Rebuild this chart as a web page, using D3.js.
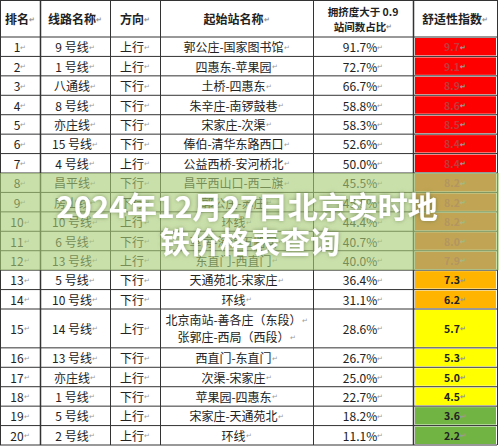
<!DOCTYPE html><html><head><meta charset="utf-8"><script src="https://cdn.jsdelivr.net/npm/d3@7"></script>
<style>body{margin:0;background:#fff}</style></head><body><svg id="c" width="499" height="446"></svg><script>
const headers=["排名","线路名称","方向","起始站名称","拥挤度大于 0.9|站间数占比","舒适性指数"];
const ranks=d3.range(1,21);
const lines=["9 号线","1 号线","八通线","8 号线","亦庄线","15 号线","4 号线","昌平线","房山线","10 号线","6 号线","13 号线","5 号线","10 号线","14 号线","13 号线","亦庄线","1 号线","5 号线","2 号线"];
const dirs=["上行","上行","下行","下行","下行","下行","上行","下行","下行","上行","下行","上行","下行","下行","上行","下行","上行","下行","上行","上行"];
const stations=["郭公庄-国家图书馆","四惠东-苹果园","土桥-四惠东","朱辛庄-南锣鼓巷","宋家庄-次渠","俸伯-清华东路西口","公益西桥-安河桥北","昌平西山口-西二旗","郭公庄-苏庄","环线","草房-海淀五路居","东直门-西直门","天通苑北-宋家庄","环线","北京南站-善各庄（东段）|张郭庄-西局（西段）","西直门-东直门","次渠-宋家庄","苹果园-四惠东","宋家庄-天通苑北","环线"];
const ratios=["91.7%","72.7%","66.7%","58.8%","58.3%","52.6%","50.0%","45.5%","45.5%","44.4%","40.7%","40.0%","36.4%","31.1%","28.6%","26.7%","25.0%","22.7%","18.2%","11.1%"];
const indices=[9.7,9.1,8.9,8.6,8.5,8.4,8.4,8.2,8.2,8.2,8.0,7.9,7.3,6.2,5.7,5.3,5.0,4.5,3.6,2.2];
const rowUnits=ranks.map(r=>r===15?2:1);
const colEdges=[0,40,110,160,313,413,497];
const svg=d3.select("#c");
const y=d3.scaleLinear().domain([0,1.9,1.9+d3.sum(rowUnits)]).range([0,37,445]);
let cum=[1.9];rowUnits.forEach(u=>cum.push(cum[cum.length-1]+u));
const color=v=>v>=8.4?"#ff0000":v>=7.5?"#e8641c":v>=6?"#ffb400":v>=4?"#ffff00":"#72b444";
const font="'Noto Sans CJK SC',sans-serif";
const g=svg.append("g");
ranks.forEach((r,i)=>{
  g.append("rect").attr("x",colEdges[5]+2).attr("y",y(cum[i])+1).attr("width",colEdges[6]-colEdges[5]-3).attr("height",y(cum[i+1])-y(cum[i])-2).attr("fill",color(indices[i]));
});
function txt(x,yy,s,opt={}){
  const t=g.append("text").attr("x",x).attr("y",yy).attr("text-anchor","middle").attr("dominant-baseline","central")
   .attr("font-family",font).attr("font-size",opt.size||11.5).attr("fill",opt.fill||"#222").attr("font-weight",opt.bold?"bold":"normal").text(s);
  if(!opt.nomark) t.append("tspan").attr("font-size",7).attr("fill","#999").text("↵");
}
headers.forEach((h,j)=>{
  const cx=(colEdges[j]+colEdges[j+1])/2, parts=h.split("|");
  parts.forEach((p,k)=>txt(cx,y(0.95)+(k-(parts.length-1)/2)*15,p,{bold:true,size:parts.length>1?10.5:12,nomark:k<parts.length-1}));
});
ranks.forEach((r,i)=>{
  const cy=(y(cum[i])+y(cum[i+1]))/2;
  const vals=[String(r),lines[i],dirs[i],stations[i],ratios[i],indices[i].toFixed(1)];
  vals.forEach((v,j)=>{
    const cx=(colEdges[j]+colEdges[j+1])/2, parts=v.split("|");
    const isIdx=j===5;
    parts.forEach((p,k)=>txt(cx,cy+(k-(parts.length-1)/2)*17,p,{size:isIdx?10.5:12,bold:isIdx,fill:isIdx&&i<12?"#c03a3a":"#222"}));
  });
});
[0,...cum].forEach((c,k)=>{
  const yy=k===0?0.5:y(c);
  g.append("line").attr("x1",0).attr("x2",497).attr("y1",yy).attr("y2",yy).attr("stroke","#333").attr("stroke-width",1);
});
colEdges.forEach(x=>g.append("line").attr("x1",x+0.5).attr("x2",x+0.5).attr("y1",0).attr("y2",445).attr("stroke","#333").attr("stroke-width",x===colEdges[5]||x===colEdges[1]?1.5:1));
svg.append("rect").attr("x",0).attr("y",y(cum[7])).attr("width",499).attr("height",y(cum[12])-y(cum[7])).attr("fill","rgb(170,205,120)").attr("opacity",0.62);
const defs=svg.append("defs");
const f=defs.append("filter").attr("id","sh").attr("x","-10%").attr("y","-30%").attr("width","120%").attr("height","160%");
f.append("feDropShadow").attr("dx",0).attr("dy",0).attr("stdDeviation",2).attr("flood-color","#556b3a").attr("flood-opacity",0.6);
const title=["2024年12月27日北京实时地","铁价格表查询"];
title.forEach((s,k)=>{
  svg.append("text").attr("x",k===0?247:250).attr("y",k===0?205:240).attr("text-anchor","middle").attr("dominant-baseline","central")
   .attr("font-family",font).attr("font-weight","bold").attr("font-size",30).attr("fill","#fff").attr("filter","url(#sh)").text(s);
});
</script></body></html>
